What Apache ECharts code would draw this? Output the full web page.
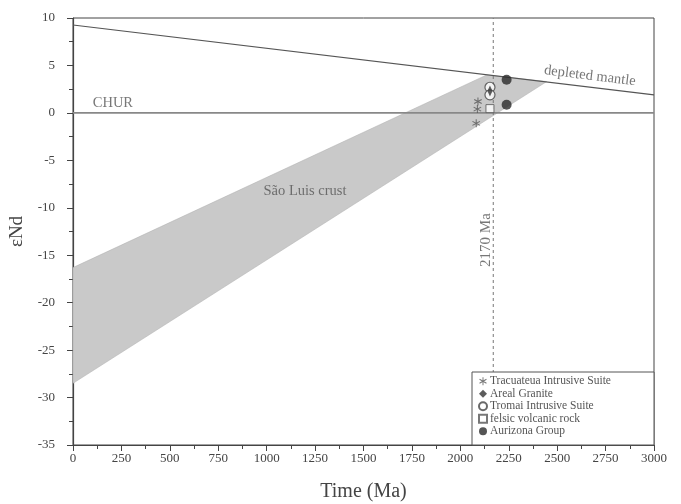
<!DOCTYPE html>
<html>
<head>
<meta charset="utf-8">
<script src="https://cdn.jsdelivr.net/npm/echarts@6/dist/echarts.min.js"></script>
<style>html,body{margin:0;padding:0;background:#fff;}#c{width:681px;height:504px;}</style>
</head>
<body>
<div id="c"></div>
<script>
// ---- data ----
var xTicks = [0,250,500,750,1000,1250,1500,1750,2000,2250,2500,2750,3000];
var yTicks = [-35,-30,-25,-20,-15,-10,-5,0,5,10];
var dmX = [0, 3000];
var dmY = [9.26, 1.9];
var churX = [0, 3000];
var churY = [0, 0];
var bandX = [0, 2136, 2446, 0];
var bandY = [-16.3, 4.0, 3.3, -28.5];
var refAge = 2170;
var tracuateua = [[2091, 1.2], [2088, 0.4], [2082, -1.1]];
var arealGranite = [[2153, 2.3]];
var tromai = [[2153, 2.7], [2153, 1.9]];
var felsic = [[2153, 0.45]];
var aurizona = [[2239, 3.5], [2239, 0.85]];
var seriesNames = ['Tracuateua Intrusive Suite','Areal Granite','Tromai Intrusive Suite','felsic volcanic rock','Aurizona Group'];
var annotTexts = ['CHUR','depleted mantle','São Luis crust','2170 Ma'];
var annotPos = [[206, 1.05],[2669, 3.9],[1198, -8.2],[2133, -13.4]];

var FONT = 'Liberation Serif';
var TXT = '#444';
var asterisk = 'path://M-0.6,-5L0.6,-5L0.6,5L-0.6,5Z M-4.63,-2.0L-4.03,-3.04L4.63,2.0L4.03,3.04Z M-4.03,3.04L-4.63,2.0L4.03,-3.04L4.63,-2.0Z';

var chart = echarts.init(document.getElementById('c'), null, {renderer:'canvas'});
var annotRot = [0, -7, 0, 90];
var annotSize = [14.5, 14.5, 14.5, 15];
var annotData = annotTexts.map(function(t,i){
  return {value: annotPos[i], label:{show:true, formatter:t, position:'inside', rotate:annotRot[i], fontFamily:FONT, fontSize:annotSize[i], color:'#555'}};
});

var option = {
  animation:false,
  backgroundColor:'#fff',
  grid:{left:73,right:27,top:18,bottom:59,show:true,borderColor:'#444',borderWidth:1,backgroundColor:'transparent',outerBoundsMode:'none',containLabel:false},
  xAxis:{
    type:'value',min:0,max:3000,interval:250,
    name:'Time (Ma)',nameLocation:'middle',nameGap:37,
    nameTextStyle:{fontFamily:FONT,fontSize:20,color:TXT},
    axisLine:{show:true,onZero:false,lineStyle:{color:'#444',width:1.2}},
    axisTick:{show:true,inside:false,length:6,lineStyle:{color:'#444'}},
    minorTick:{show:true,splitNumber:2,length:4,lineStyle:{color:'#444'}},
    splitLine:{show:false},
    axisLabel:{fontFamily:FONT,fontSize:13,color:TXT,margin:7,
      formatter:function(v){return xTicks.indexOf(v)>=0?String(v):'';}}
  },
  yAxis:{
    type:'value',min:-35,max:10,interval:5,
    name:'εNd',nameLocation:'middle',nameGap:42,nameRotate:90,
    nameTextStyle:{fontFamily:FONT,fontSize:19,color:TXT},
    axisLine:{show:true,onZero:false,lineStyle:{color:'#444',width:1.2}},
    axisTick:{show:true,inside:false,length:6,lineStyle:{color:'#444'}},
    minorTick:{show:true,splitNumber:2,length:4,lineStyle:{color:'#444'}},
    splitLine:{show:false},
    axisLabel:{fontFamily:FONT,fontSize:13,color:TXT,margin:18,
      formatter:function(v){return yTicks.indexOf(v)>=0?String(v):'';}}
  },
  legend:{
    orient:'vertical',left:478,top:375,itemGap:0,itemWidth:8,itemHeight:8,
    padding:[0,0,0,0],
    textStyle:{fontFamily:FONT,fontSize:11.5,lineHeight:12.5,color:'#555',padding:[0,0,0,-2]},
    data:seriesNames,
    z:10
  },
  graphic:[{type:'rect',shape:{x:472,y:372,width:182,height:73},style:{fill:'#fff',stroke:'#555',lineWidth:1},z:5}],
  series:[
    {type:'custom',silent:true,z:1,
      renderItem:function(params,api){
        var pts = bandX.map(function(x,i){return api.coord([x,bandY[i]]);});
        return {type:'polygon',shape:{points:pts},style:{fill:'#c9c9c9',stroke:'#aaa',lineWidth:0.5}};
      },
      data:[[0,0]]},
    {type:'line',silent:true,z:2,symbol:'none',data:dmX.map(function(x,i){return [x,dmY[i]];}),lineStyle:{color:'#555',width:1.2}},
    {type:'line',silent:true,z:2,symbol:'none',data:churX.map(function(x,i){return [x,churY[i]];}),lineStyle:{color:'#888',width:1.8}},
    {type:'line',silent:true,z:2,symbol:'none',data:[[refAge,-35],[refAge,10]],lineStyle:{color:'#777',width:1,type:[3,3]}},
    {name:seriesNames[0],type:'scatter',z:3,symbol:asterisk,symbolSize:8,data:tracuateua,itemStyle:{color:'#555'}},
    {name:seriesNames[2],type:'scatter',z:3,symbol:'circle',symbolSize:10,data:tromai,itemStyle:{color:'#fff',borderColor:'#444',borderWidth:1.2}},
    {name:seriesNames[1],type:'scatter',z:4,symbol:'diamond',symbolSize:[5,11],data:arealGranite,itemStyle:{color:'#333'}},
    {name:seriesNames[3],type:'scatter',z:3,symbol:'rect',symbolSize:8,data:felsic,itemStyle:{color:'#fff',borderColor:'#555',borderWidth:1}},
    {name:seriesNames[4],type:'scatter',z:3,symbol:'circle',symbolSize:10,data:aurizona,itemStyle:{color:'#2a2a2a'}},
    {type:'scatter',silent:true,z:6,symbolSize:0,data:annotData}
  ]
};
chart.setOption(option);
</script>
</body>
</html>
